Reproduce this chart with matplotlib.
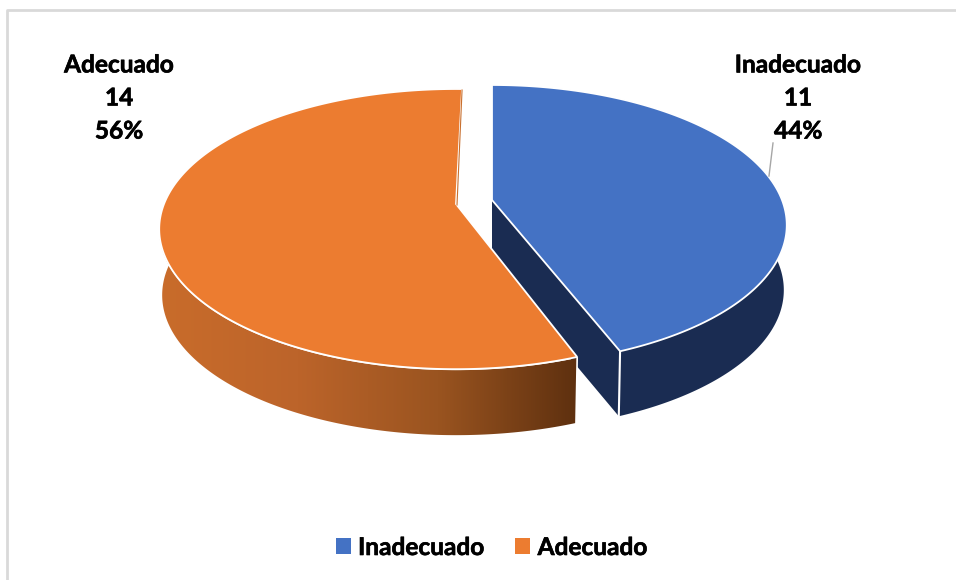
import numpy as np
import matplotlib
matplotlib.use("Agg")
import matplotlib.pyplot as plt
import matplotlib.patheffects as pe
from matplotlib.colors import LinearSegmentedColormap
from matplotlib.patches import Patch, Polygon

categories = ["Inadecuado", "Adecuado"]
counts = [11, 14]
top_colors = ["#4472C4", "#EC7C30"]

## -- pie geometry in figure pixels
apex = [(492, 200), (456, 205)]
radius = [290, 292]
tilt_b = 135.6
persp = 0.179
depth = 65
shrink = 0.99
rotation = [0, 1.4]

plt.rcParams["font.family"] = ["Lato", "DejaVu Sans"]
plt.rcParams["font.weight"] = "bold"

# the reference text is a bit heavier than Lato bold
heavy = [pe.withStroke(linewidth=0.45, foreground="black")]


def rim(i, deg):
    t = np.radians(deg)
    u = np.sin(t)
    v = np.cos(t)
    w = 1 + persp * v
    return apex[i][0] + radius[i] * u / w, apex[i][1] - tilt_b * v / w


def lower(i, x, y):
    return apex[i][0] + (x - apex[i][0]) * shrink, y + depth


fig = plt.figure(figsize=(9.56, 5.8), dpi=100)
ax = fig.add_axes([0, 0, 1, 1])
ax.set_xlim(0, 956)
ax.set_ylim(580, 0)
ax.axis("off")

# chart frame, only top and left end up inside the picture
ax.plot([7, 7, 956], [580, 10, 10], color="#D9D9D9", lw=2, zorder=0)

total = sum(counts)
shares = [c / total * 360 for c in counts]
starts = [0, shares[0]]

## -- blue slice
a0 = starts[0] + rotation[0]
a1 = a0 + shares[0]
ts = np.linspace(a0, a1, 200)
x, y = rim(0, ts)
xl, yl = lower(0, x, y)
wall = np.c_[np.r_[x, xl[::-1]], np.r_[y, yl[::-1]]]
ax.add_patch(Polygon(wall, fc="#1A2C52", ec="none", zorder=1))
ax0, ay0 = apex[0]
axl, ayl = lower(0, ax0, ay0)
cut = [(ax0, ay0), (x[-1], y[-1]), (xl[-1], yl[-1]), (axl, ayl)]
ax.add_patch(Polygon(cut, fc="#1A2C52", ec="none", zorder=1))
ax.plot([x[-1], xl[-1]], [y[-1], yl[-1]], color="white", lw=1.5, zorder=2)
top = np.c_[np.r_[ax0, x], np.r_[ay0, y]]
ax.add_patch(Polygon(top, fc=top_colors[0], ec="white", lw=1.3, zorder=3))

## -- orange slice
a0 = starts[1] + rotation[1]
a1 = a0 + shares[1]
ts = np.linspace(a0, a1, 300)
x, y = rim(1, ts)
xl, yl = lower(1, x, y)
wall = np.c_[np.r_[x, xl[::-1]], np.r_[y, yl[::-1]]]
wall_patch = Polygon(wall, fc="none", ec="none", zorder=4)
ax.add_patch(wall_patch)
shade = LinearSegmentedColormap.from_list(
    "wall", ["#C96C2B", "#BC642A", "#9A5420", "#5E300F"])
im = ax.imshow(np.linspace(0, 1, 256).reshape(1, -1), cmap=shade, aspect="auto",
               extent=[158, 578, 440, 220], zorder=4)
im.set_clip_path(wall_patch)
ax.set_xlim(0, 956)
ax.set_ylim(580, 0)
ax.plot(np.r_[xl[0], x[0]], np.r_[yl[0], y[0]], color="white", lw=1.2, zorder=5)
ax1, ay1 = apex[1]
top = np.c_[np.r_[ax1, x], np.r_[ay1 - 1, y - 1]]
ax.add_patch(Polygon(top, fc=top_colors[1], ec="white", lw=1.3, zorder=6))
ax.plot([ax1 + 1, x[-1]], [ay1, y[-1]], color="#C8702F", lw=0.8, zorder=7)

## -- labels
label_pos = [(798, 98), (119, 98)]
for name, n, (lx, ly) in zip(categories, counts, label_pos):
    ax.text(lx, ly, f"{name}\n{n}\n{n / total:.0%}", ha="center", va="center",
            fontsize=17.6, fontweight="bold", color="black", linespacing=1.53, zorder=8,
            path_effects=heavy)
ax.plot([773, 769], [143, 176], color="#A6A6A6", lw=1, zorder=8)

## -- legend
handles = [Patch(fc=c, ec="none") for c in top_colors]
leg = ax.legend(handles, categories, loc="center", bbox_to_anchor=(491.5 / 956, 1 - 547.5 / 580),
                ncol=2, frameon=False, fontsize=17.6, handlelength=0.62, handleheight=0.62,
                handletextpad=0.3, columnspacing=1.25, borderpad=0)
for t in leg.get_texts():
    t.set_path_effects(heavy)

fig.savefig("out.png", dpi=100)
